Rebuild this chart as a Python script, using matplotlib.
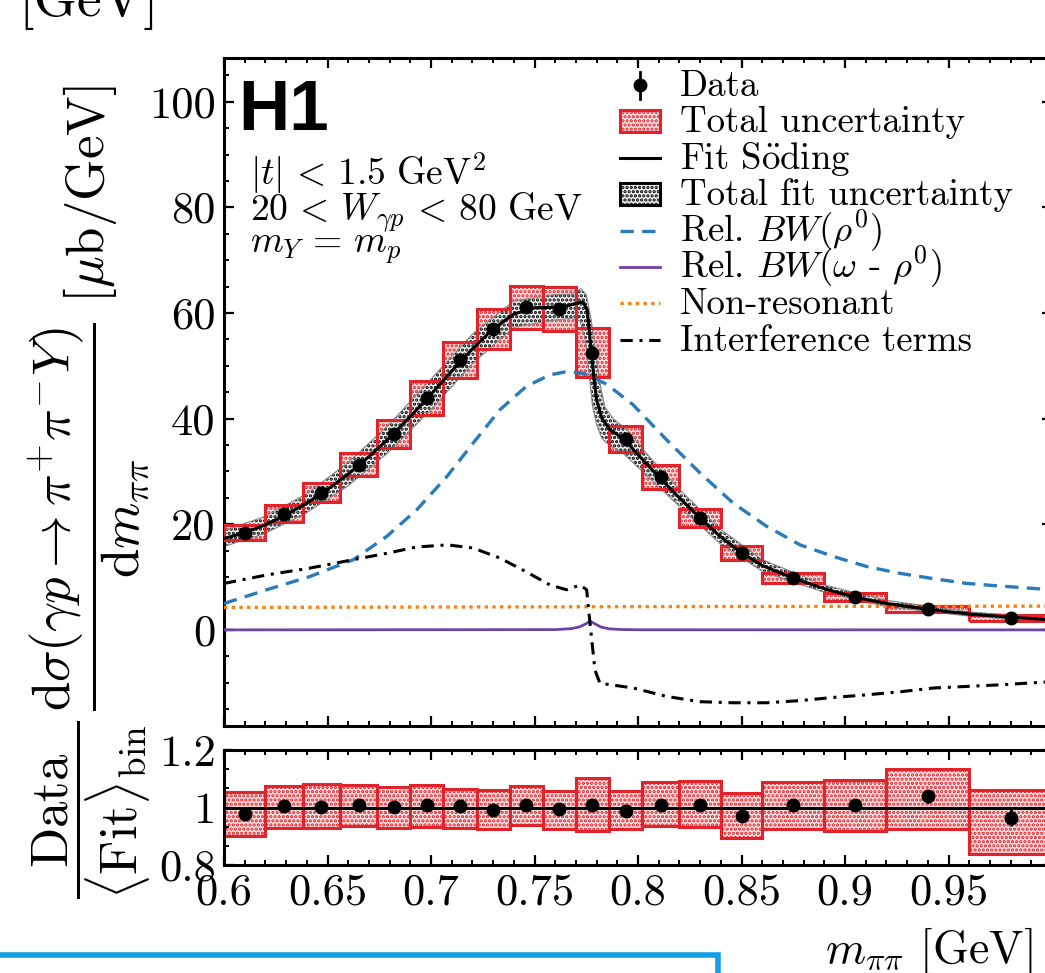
import matplotlib
matplotlib.use("Agg")
import matplotlib.pyplot as plt
import numpy as np
from matplotlib.patches import Rectangle
from matplotlib.lines import Line2D
from matplotlib.ticker import MultipleLocator, FixedLocator, FuncFormatter

plt.rcParams["font.family"] = "serif"
plt.rcParams["font.serif"] = ["cmr10"]
plt.rcParams["mathtext.fontset"] = "cm"
plt.rcParams["axes.unicode_minus"] = False
plt.rcParams["hatch.linewidth"] = 1.6

# binned data (m_pipi in GeV, cross section in mub/GeV)
bin_edges = [0.6, 0.62, 0.638, 0.656, 0.674, 0.69, 0.706, 0.722, 0.738, 0.754,
             0.77, 0.786, 0.802, 0.82, 0.84, 0.86, 0.89, 0.92, 0.96, 1.0]
x_data = [0.61, 0.629, 0.647, 0.665, 0.682, 0.698, 0.714, 0.730, 0.746, 0.762,
          0.778, 0.794, 0.811, 0.830, 0.850, 0.875, 0.905, 0.940, 0.980]
xsec = [18.4, 22.0, 26.0, 31.3, 37.1, 43.9, 51.1, 57.0, 61.1, 60.8,
        52.5, 36.2, 29.0, 21.2, 14.6, 9.85, 6.25, 3.98, 2.3]
xsec_stat = [0.3, 0.3, 0.4, 0.4, 0.5, 0.5, 0.6, 0.6, 0.6, 0.6,
             0.6, 0.5, 0.4, 0.3, 0.3, 0.2, 0.15, 0.12, 0.1]
xsec_tot = [1.4, 1.6, 1.85, 2.2, 2.7, 3.15, 3.45, 3.8, 4.1, 4.2,
            4.7, 2.5, 2.3, 1.7, 1.3, 1.0, 0.7, 0.6, 0.55]

# fit curve
fit_x = [0.600, 0.610, 0.620, 0.630, 0.640, 0.650, 0.660, 0.670, 0.680, 0.690,
         0.700, 0.710, 0.720, 0.730, 0.740, 0.750, 0.760, 0.766, 0.770, 0.7735,
         0.7755, 0.777, 0.7785, 0.780, 0.7825, 0.7865, 0.793, 0.800, 0.810, 0.820,
         0.830, 0.840, 0.850, 0.860, 0.875, 0.890, 0.905, 0.920, 0.940, 0.960,
         0.980, 1.000]
fit_y = [17.3, 18.4, 19.9, 21.8, 24.0, 26.6, 29.5, 32.8, 36.4, 40.4,
         44.6, 49.0, 53.2, 57.0, 59.8, 61.0, 61.1, 61.4, 61.8, 62.1,
         60.5, 54.5, 48.5, 43.6, 40.1, 37.9, 36.2, 33.2, 29.0, 25.0,
         21.2, 17.6, 14.6, 12.2, 9.8, 7.8, 6.2, 5.0, 3.9, 3.0,
         2.4, 1.9]

# fit uncertainty band edges
band_up_x = [0.600, 0.620, 0.640, 0.660, 0.680, 0.700, 0.720, 0.740, 0.760, 0.768,
             0.7725, 0.775, 0.7775, 0.7795, 0.7815, 0.784, 0.788, 0.795, 0.805, 0.820,
             0.840, 0.860, 0.890, 0.920, 0.960, 1.000]
band_up_y = [18.8, 21.5, 25.8, 31.7, 39.0, 47.5, 56.0, 62.3, 63.5, 63.6,
             64.6, 63.5, 58.5, 52.5, 47.0, 42.2, 40.0, 37.8, 33.0, 26.6,
             19.0, 13.3, 8.5, 5.6, 3.4, 2.3]
band_lo_x = [0.600, 0.620, 0.640, 0.660, 0.680, 0.700, 0.720, 0.740, 0.760, 0.768,
             0.772, 0.7745, 0.7765, 0.778, 0.780, 0.7825, 0.786, 0.792, 0.800, 0.820,
             0.840, 0.860, 0.890, 0.920, 0.960, 1.000]
band_lo_y = [15.8, 18.3, 22.2, 27.3, 33.8, 41.7, 50.4, 57.3, 58.7, 59.0,
             58.5, 55.0, 48.0, 42.5, 38.8, 36.3, 35.0, 33.7, 30.8, 23.4,
             16.2, 11.1, 7.1, 4.4, 2.6, 1.5]

# fit components
rho_x = [0.600, 0.6206, 0.6415, 0.6625, 0.6786, 0.693, 0.7076, 0.7204, 0.7333, 0.746,
         0.7575, 0.7655, 0.7736, 0.785, 0.7977, 0.8138, 0.830, 0.846, 0.8622, 0.8783,
         0.8944, 0.9105, 0.9266, 0.9427, 0.9588, 0.975, 1.000]
rho_y = [5.0, 7.6, 10.1, 13.3, 17.7, 22.7, 29.0, 35.4, 41.7, 46.1,
         48.3, 48.9, 48.6, 46.5, 42.6, 36.0, 29.7, 24.0, 19.6, 16.1,
         13.9, 12.0, 10.7, 9.7, 8.8, 8.3, 7.6]
omega_x = [0.600, 0.760, 0.768, 0.772, 0.775, 0.777, 0.779, 0.782, 0.786, 0.792, 0.800, 1.000]
omega_y = [0.0, 0.05, 0.25, 0.6, 1.2, 1.6, 1.2, 0.55, 0.2, 0.07, 0.02, 0.0]
nonres_x = [0.6, 0.7, 0.8, 0.9, 1.0]
nonres_y = [4.25, 4.33, 4.4, 4.45, 4.5]
interf_x = [0.600, 0.6206, 0.6415, 0.6625, 0.6786, 0.693, 0.708, 0.7204, 0.7333, 0.746,
            0.7575, 0.7655, 0.772, 0.7752, 0.7768, 0.7792, 0.7816, 0.7977, 0.8138, 0.830,
            0.846, 0.862, 0.878, 0.894, 0.9105, 0.927, 0.943, 0.959, 0.975, 1.000]
interf_y = [8.8, 10.4, 11.7, 13.3, 14.5, 15.7, 16.1, 15.5, 13.6, 11.0,
            8.5, 7.6, 8.5, 7.6, 1.3, -7.6, -10.1, -11.0, -12.6, -13.6,
            -13.8, -13.8, -13.4, -12.8, -12.3, -11.7, -11.0, -10.7, -10.4, -9.8]

# ratio panel
ratio = [0.979, 1.004, 1.001, 1.010, 1.002, 1.007, 1.004, 0.993, 1.007, 0.995,
         1.007, 0.989, 1.010, 1.010, 0.972, 1.007, 1.010, 1.039, 0.964]
ratio_stat = [0.01, 0.01, 0.01, 0.01, 0.01, 0.01, 0.01, 0.01, 0.01, 0.01,
              0.01, 0.01, 0.01, 0.01, 0.012, 0.012, 0.018, 0.022, 0.03]
ratio_hi = [1.053, 1.074, 1.080, 1.077, 1.072, 1.077, 1.065, 1.060, 1.074, 1.057,
            1.104, 1.057, 1.088, 1.092, 1.051, 1.088, 1.095, 1.133, 1.060]
ratio_lo = [0.902, 0.929, 0.929, 0.934, 0.929, 0.932, 0.929, 0.925, 0.940, 0.925,
            0.917, 0.925, 0.934, 0.932, 0.894, 0.925, 0.917, 0.925, 0.839]

x_ticks = [0.6, 0.65, 0.7, 0.75, 0.8, 0.85, 0.9, 0.95, 1.0]
legend_labels = ["Data", "Total uncertainty", r"Fit S$\mathrm{\ddot{o}}$ding",
                 "Total fit uncertainty", r"Rel. $BW(\rho^0)$",
                 r"Rel. $BW(\omega$ - $\rho^0)$", "Non-resonant", "Interference terms"]

red = "#e3232c"
pink = "#fde4e4"
blue = "#2b7bba"
orange = "#ff7f0e"
purple = "#6f42a6"
rho_ls = (0, (4, 2.5))
nonres_ls = (0, (1, 1.3))
interf_ls = (0, (4, 2.2, 1, 2.2))

W, H = 1045, 973
fig = plt.figure(figsize=(W / 100, H / 100), dpi=100)


def fx(px):
    return px / W


def fy(py):
    return 1 - py / H


ax = fig.add_axes([fx(224), fy(726), fx(1052) - fx(224), fy(58) - fy(726)])
axr = fig.add_axes([fx(224), fy(865), fx(1052) - fx(224), fy(750) - fy(865)])

edges = np.array(bin_edges)
widths = np.diff(edges)
xsec_a = np.array(xsec)
tot_a = np.array(xsec_tot)

# total uncertainty boxes (fill), fit band, then box outlines
ax.bar(edges[:-1], 2 * tot_a, bottom=xsec_a - tot_a, width=widths, align="edge",
       facecolor=pink, edgecolor=red, hatch="....", linewidth=0, zorder=1)
band_px = np.concatenate([band_up_x, band_lo_x[::-1]])
band_py = np.concatenate([band_up_y, band_lo_y[::-1]])
ax.fill(band_px, band_py, facecolor="#f2f2f2", edgecolor="black", hatch="....",
        linewidth=0, zorder=2)
ax.fill(band_px, band_py, facecolor="none", edgecolor="#888888", linewidth=0.8, zorder=2.1)
ax.bar(edges[:-1], 2 * tot_a, bottom=xsec_a - tot_a, width=widths, align="edge",
       fill=False, edgecolor=red, linewidth=2.2, zorder=3)

ax.plot(nonres_x, nonres_y, color=orange, lw=2.4, linestyle=nonres_ls, zorder=4)
ax.plot(omega_x, omega_y, color=purple, lw=2.0, zorder=4)
ax.plot(rho_x, rho_y, color=blue, lw=2.4, linestyle=rho_ls, zorder=4)
ax.plot(interf_x, interf_y, color="black", lw=2.2, linestyle=interf_ls, zorder=4)
ax.plot(fit_x, fit_y, color="black", lw=2.2, zorder=5)
ax.errorbar(x_data, xsec, yerr=xsec_stat, fmt="o", color="black", ms=9,
            elinewidth=2, capsize=0, zorder=6)

ax.set_xlim(0.6, 1.0)
ax.set_ylim(-18.2, 108.3)
ax.yaxis.set_major_locator(MultipleLocator(20))
ax.yaxis.set_minor_locator(MultipleLocator(5))
ax.xaxis.set_major_locator(FixedLocator(x_ticks))
ax.xaxis.set_minor_locator(MultipleLocator(0.01))
ax.yaxis.set_major_formatter(FuncFormatter(lambda v, p: "%g" % v))
ax.tick_params(labelbottom=False)

# ratio panel
ratio_hi_a = np.array(ratio_hi)
ratio_lo_a = np.array(ratio_lo)
axr.bar(edges[:-1], ratio_hi_a - ratio_lo_a, bottom=ratio_lo_a, width=widths, align="edge",
        facecolor=pink, edgecolor=red, hatch="....", linewidth=2.2, zorder=1)
axr.axhline(1.0, color="black", lw=2.2, zorder=2)
axr.errorbar(x_data, ratio, yerr=ratio_stat, fmt="o", color="black", ms=9,
             elinewidth=2, capsize=0, zorder=3)
axr.set_xlim(0.6, 1.0)
axr.set_ylim(0.8, 1.2)
axr.set_yticks([0.8, 1.0, 1.2])
axr.yaxis.set_minor_locator(MultipleLocator(0.2 / 3))
axr.xaxis.set_major_locator(FixedLocator(x_ticks))
axr.xaxis.set_minor_locator(MultipleLocator(0.01))
axr.yaxis.set_major_formatter(FuncFormatter(lambda v, p: "%g" % round(v, 3)))
axr.xaxis.set_major_formatter(FuncFormatter(lambda v, p: "%g" % round(v, 3)))

for a in (ax, axr):
    for s in a.spines.values():
        s.set_linewidth(2.2)
    a.tick_params(which="both", direction="in", top=True, right=True, labelsize=32, pad=6)
    a.tick_params(which="major", length=7, width=1.6)
    a.tick_params(which="minor", length=3.5, width=1.4)

# axis labels
fig.text(fx(90), fy(398),
         r"$\dfrac{\mathrm{d}\sigma(\gamma p \rightarrow \pi^{+}\pi^{-}Y)}{\mathrm{d}m_{\pi\pi}}\ [\mu\mathrm{b}/\mathrm{GeV}]$",
         rotation=90, ha="center", va="center", fontsize=38)
fig.text(fx(92), fy(810), r"$\dfrac{\mathrm{Data}}{\langle\mathrm{Fit}\rangle_{\mathrm{bin}}}$",
         rotation=90, ha="center", va="center", fontsize=38)
fig.text(fx(1033), fy(963), r"$m_{\pi\pi}$ [GeV]", ha="right", va="baseline", fontsize=33)

fig.text(fx(238), fy(130), "H1", family="Liberation Sans", weight="bold",
         fontsize=51, va="baseline")
fig.text(fx(250), fy(184), r"$|t| \,<\, 1.5\ \mathrm{GeV}^2$", fontsize=27, va="baseline")
fig.text(fx(250), fy(221), r"$20 \,<\, W_{\gamma p} \,<\, 80\ \mathrm{GeV}$", fontsize=27,
         va="baseline")
fig.text(fx(250), fy(253), r"$m_Y \,=\, m_p$", fontsize=27, va="baseline")

# legend, rows evenly spaced like the original
row0, step = 85, 36.4
hx0, hx1 = 620, 660
for i, lab in enumerate(legend_labels):
    fig.text(fx(680), fy(row0 + step * i + 11), lab, fontsize=26.5, va="baseline")
yc = [fy(row0 + step * i) for i in range(8)]
fig.add_artist(Line2D([fx(640), fx(640)], [fy(72), fy(99)], color="black", lw=2,
                      transform=fig.transFigure))
fig.add_artist(Line2D([fx(640)], [yc[0]], marker="o", ms=9, color="black",
                      transform=fig.transFigure))
fig.add_artist(Rectangle((fx(hx0), yc[1] - 11 / H), fx(hx1) - fx(hx0), 22 / H,
                         transform=fig.transFigure, facecolor=pink, edgecolor=red,
                         hatch="....", linewidth=2.2))
fig.add_artist(Line2D([fx(hx0), fx(hx1)], [yc[2], yc[2]], color="black", lw=2.2,
                      transform=fig.transFigure))
fig.add_artist(Rectangle((fx(hx0), yc[3] - 11 / H), fx(hx1) - fx(hx0), 22 / H,
                         transform=fig.transFigure, facecolor="#f2f2f2", edgecolor="black",
                         hatch="....", linewidth=2.2))
fig.add_artist(Line2D([fx(hx0), fx(hx1)], [yc[4], yc[4]], color=blue, lw=2.4,
                      linestyle=rho_ls, transform=fig.transFigure))
fig.add_artist(Line2D([fx(hx0), fx(hx1)], [yc[5], yc[5]], color=purple, lw=2.0,
                      transform=fig.transFigure))
fig.add_artist(Line2D([fx(hx0), fx(hx1)], [yc[6], yc[6]], color=orange, lw=2.4,
                      linestyle=nonres_ls, transform=fig.transFigure))
fig.add_artist(Line2D([fx(hx0), fx(hx1)], [yc[7], yc[7]], color="black", lw=2.2,
                      linestyle=interf_ls, transform=fig.transFigure))

# cropped-in context from the surrounding figure
fig.text(fx(18), fy(16), "[GeV]", fontsize=40, va="baseline")
fig.add_artist(Rectangle((fx(-10), fy(1100)), fx(728), fy(955) - fy(1100),
                         transform=fig.transFigure, fill=False,
                         edgecolor="#12a0e6", linewidth=4))

fig.savefig("out.png", dpi=100)
